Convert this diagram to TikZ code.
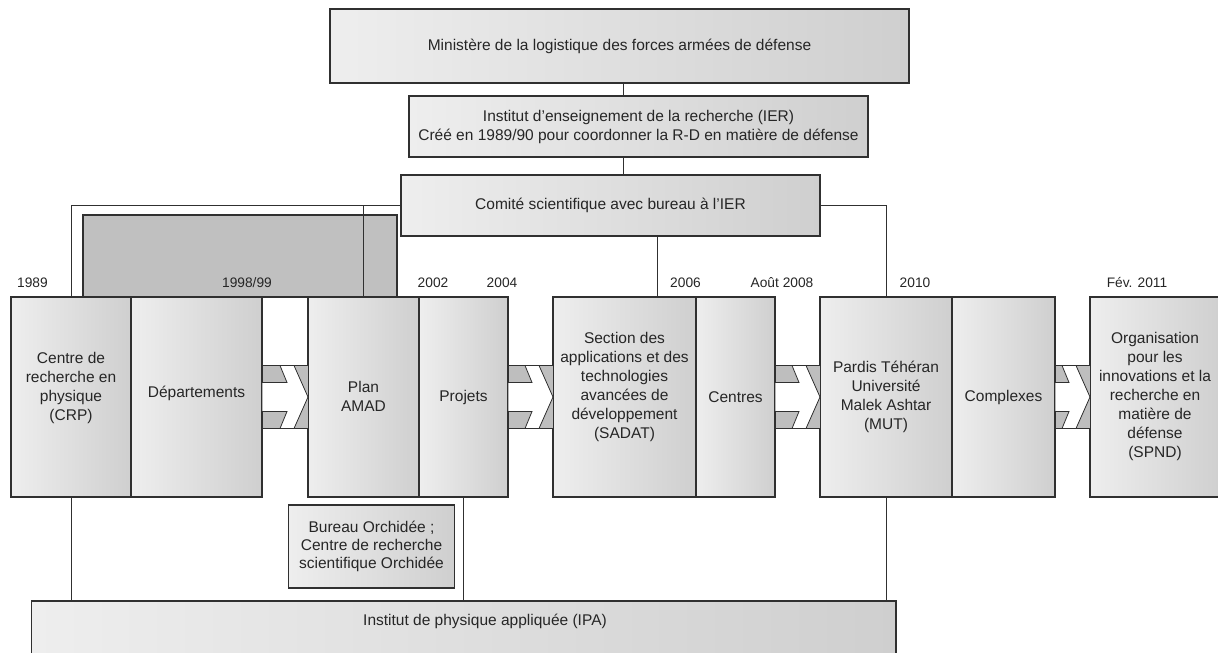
\documentclass[tikz,border=0pt]{standalone}
\usepackage{fontspec}
\setmainfont{Liberation Sans}
\usetikzlibrary{fit}
\definecolor{txtc}{HTML}{262626}
\definecolor{linec}{HTML}{303030}
\definecolor{boxl}{HTML}{EEEEEE}
\definecolor{boxr}{HTML}{CFCFCF}
\definecolor{blkgray}{HTML}{C0C0C0}
\definecolor{bandgray}{HTML}{BEBEBE}
\tikzset{
  box/.style={draw=linec, line width=1.1pt, left color=boxl, right color=boxr, inner sep=0pt, outer sep=0pt},
  blkbox/.style={draw=linec, line width=1.1pt, fill=blkgray, inner sep=0pt, outer sep=0pt},
  txt/.style={font=\fontsize{15.5}{19}\selectfont, text=txtc, align=center, inner sep=0pt},
  txtb/.style={font=\fontsize{15.5}{18}\selectfont, text=txtc, align=center, inner sep=0pt},
  yr/.style={font=\fontsize{13.75}{16}\selectfont, text=txtc, inner sep=0pt},
  conn/.style={draw=linec, line width=1pt},
  pics/chevarrow/.style={code={
    \fill[bandgray] (-#1,-31.5) rectangle (0,31.5);
    \draw[linec, line width=1pt] (-#1,-31.5) rectangle (0,31.5);
    \draw[linec, line width=0.8pt, fill=white] (-#1,-14.5) -- (-21,-14.5) -- (-28,-31.5) -- (-14,-31.5) -- (0,0) -- (-14,31.5) -- (-28,31.5) -- (-21,14.5) -- (-#1,14.5) -- cycle;
  }}
}
\begin{document}
\begin{tikzpicture}[x=1pt,y=-1pt]
\useasboundingbox (0,0) rectangle (1218,653);
\clip (0,0) rectangle (1218,653);

% top hierarchy
\node[box, fit={(330,9) (909,83)}] (min) {};
\node[txt] (mint) at (min.center) {Ministère de la logistique des forces armées de défense};
\node[box, fit={(409,96) (868,157)}] (ier) {};
\node[txt] (iert) at (ier.center) {Institut d'enseignement de la recherche (IER)\\Créé en 1989/90 pour coordonner la R-D en matière de défense};
\node[box, fit={(401,175) (820,236)}] (com) {};
\node[txt] (comt) at (com.center) {Comité scientifique avec bureau à l'IER};

% dark block behind
\node[blkbox, fit={(83,215) (397,297)}] (blk) {};

% timeline boxes
\node[box, fit={(11,297) (131,497)}] (crp) {};
\node[box, fit={(131,297) (262,497)}] (dep) {};
\node[box, fit={(308,297) (419,497)}] (plan) {};
\node[box, fit={(419,297) (508,497)}] (projets) {};
\node[box, fit={(553,297) (696,497)}] (sadat) {};
\node[box, fit={(696,297) (775,497)}] (centres) {};
\node[box, fit={(820,297) (952,497)}] (pardis) {};
\node[box, fit={(952,297) (1055,497)}] (complexes) {};
\node[box, fit={(1090,297) (1222,497)}] (spnd) {};

\node[txt] (crpt) at (71,387.5) {Centre de\\recherche en\\physique\\(CRP)};
\node[txt] (dept) at (196.5,393) {Départements};
\node[txt] (plant) at (363.5,396) {Plan\\AMAD};
\node[txt] (projetst) at (463.5,397) {Projets};
\node[txt] (sadatt) at (624.5,387) {Section des\\applications et des\\technologies\\avancées de\\développement\\(SADAT)};
\node[txt] (centrest) at (735.5,397) {Centres};
\node[txt] (pardist) at (886,396.5) {Pardis Téhéran\\Université\\Malek Ashtar\\(MUT)};
\node[txt] (complexest) at (1003.5,397) {Complexes};
\node[txt] (spndt) at (1155,396.5) {Organisation\\pour les\\innovations et la\\recherche en\\matière de\\défense\\(SPND)};

% years
\node[yr] (y1989) at (32.5,283) {1989};
\node[yr] (y1998) at (247,283) {1998/99};
\node[yr] (y2002) at (433,283) {2002};
\node[yr] (y2004) at (502,283) {2004};
\node[yr] (y2006) at (685.5,283) {2006};
\node[yr] (y2008) at (782,283) {Août 2008};
\node[yr] (y2010) at (915,283) {2010};
\node[yr] (y2011) at (1137,283) {Fév. 2011};

% bottom boxes
\node[box, fit={(288.5,505) (454.5,588)}] (bur) {};
\node[txtb] (burt) at (bur.center) {Bureau Orchidée ;\\Centre de recherche\\scientifique Orchidée};
\node[box, fit={(31.5,601) (896,690)}] (ipa) {};
\node[txt] (ipat) at (485,621) {Institut de physique appliquée (IPA)};

% connectors
\coordinate (cx) at (623,0);
\coordinate (cs) at (657,0);
\draw[conn] (min.south -| cx) -- (ier.north -| cx);
\draw[conn] (ier.south -| cx) -- (com.north -| cx);
\draw[conn] (com.south -| cs) -- (sadat.north -| cs);
\draw[conn] (com.east) -| (pardis.north);
\draw[conn] (com.west) -| (crp.north);
\draw[conn] (plan.north) -- (plan.north |- com.west);
\draw[conn] (crp.south) -- (crp.south |- ipa.north);
\draw[conn] (projets.south) -- (projets.south |- ipa.north);
\draw[conn] (pardis.south) -- (pardis.south |- ipa.north);

% block arrows
\pic at (plan.west) {chevarrow=46};
\pic at (sadat.west) {chevarrow=45};
\pic at (pardis.west) {chevarrow=45};
\pic at (spnd.west) {chevarrow=35};
\end{tikzpicture}
\end{document}
